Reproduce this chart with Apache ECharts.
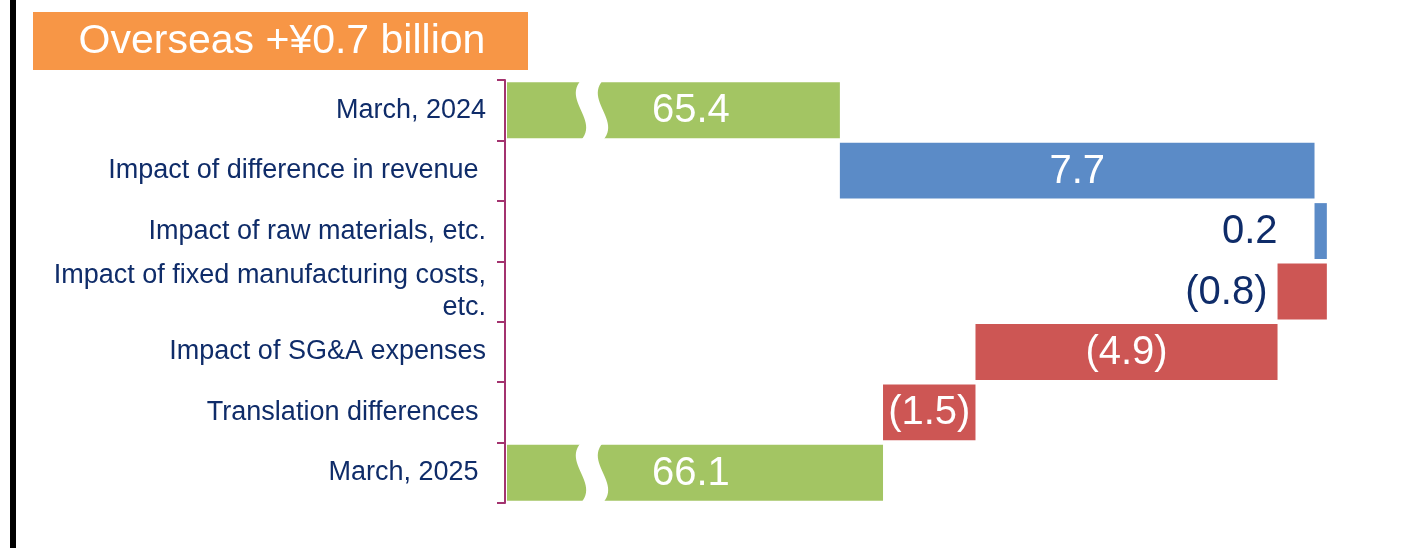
<!DOCTYPE html>
<html>
<head>
<meta charset="utf-8">
<style>
  html, body { margin: 0; padding: 0; background: #ffffff; }
  #chart { width: 1407px; height: 548px; }
</style>
<script src="https://cdn.jsdelivr.net/npm/echarts@6/dist/echarts.min.js"></script>
</head>
<body>
<div id="chart"></div>
<script>
// ---- data ----
const titleText = 'Overseas +¥0.7 billion';
const categories = [
  'March, 2024',
  'Impact of difference in revenue ',
  'Impact of raw materials, etc.',
  'Impact of fixed manufacturing costs,\netc.',
  'Impact of SG&A expenses',
  'Translation differences ',
  'March, 2025 '
];
const values = [65.4, 7.7, 0.2, -0.8, -4.9, -1.5, 66.1];
const kinds = ['total', 'delta', 'delta', 'delta', 'delta', 'delta', 'total'];
const axisMin = 60;
const axisMax = 74;
const breakValue = 61.2;

// ---- styling (not data) ----
const labelPlacement = ['break', 'inside', 'outside', 'outside', 'inside', 'inside', 'break'];
const outsideGap = [0, 0, 37, 10, 0, 0, 0];
const COLORS = { total: '#a3c563', pos: '#5b8bc7', neg: '#cd5654' };
const NAVY = '#0f2c69';
const FONT = "'Liberation Sans', Arial, Helvetica, sans-serif";

// build running waterfall rows
const rows = [];
let running = 0;
values.forEach((v, i) => {
  let s, e;
  if (kinds[i] === 'total') { s = 0; e = v; running = v; }
  else { s = running; e = running + v; running = e; }
  rows.push([i, s, e, v]);
});

function fmt(v) {
  return v < 0 ? '(' + Math.abs(v).toFixed(1) + ')' : v.toFixed(1);
}

function renderItem(params, api) {
  const idx = api.value(0);
  const s = api.value(1), e = api.value(2), v = api.value(3);
  const kind = kinds[idx];
  const cs = params.coordSys;
  const band = api.size([0, 1])[1];
  const barH = band * 0.925;
  const p1 = api.coord([s, idx]);
  const p2 = api.coord([e, idx]);
  const yc = p1[1];
  let x1 = Math.max(Math.min(p1[0], p2[0]), cs.x);
  let x2 = Math.min(Math.max(p1[0], p2[0]), cs.x + cs.width);
  const top = yc - barH / 2, bot = yc + barH / 2;
  const color = kind === 'total' ? COLORS.total : (v >= 0 ? COLORS.pos : COLORS.neg);
  const children = [{
    type: 'rect',
    shape: { x: x1, y: top, width: x2 - x1, height: barH },
    style: { fill: color }
  }];
  const place = labelPlacement[idx];
  let tx, align, fill;
  if (place === 'break') {
    // white S-shaped break gap
    const bx = api.coord([breakValue, idx])[0];
    const w = 22, a = 18;
    const t0 = top - 2, t1 = bot + 2, h = t1 - t0;
    const pts = [];
    const N = 24;
    function bez(t, x0, amp) {
      const mt = 1 - t;
      const x = mt * mt * mt * x0 + 3 * mt * mt * t * (x0 - amp) + 3 * mt * t * t * (x0 + amp) + t * t * t * x0;
      const y = t0 + h * t;
      return [x, y];
    }
    for (let k = 0; k <= N; k++) pts.push(bez(k / N, bx, a));
    for (let k = N; k >= 0; k--) pts.push(bez(k / N, bx + w, a));
    children.push({ type: 'polygon', shape: { points: pts }, style: { fill: '#ffffff' } });
    tx = bx + w + 49; align = 'left'; fill = '#ffffff';
  } else if (place === 'inside') {
    tx = (x1 + x2) / 2; align = 'center'; fill = '#ffffff';
  } else {
    tx = x1 - outsideGap[idx]; align = 'right'; fill = NAVY;
  }
  children.push({
    type: 'text',
    style: {
      text: fmt(v), x: tx, y: yc + 1, fill: fill,
      align: align, verticalAlign: 'middle',
      fontSize: 40, fontFamily: FONT
    }
  });
  return { type: 'group', children: children };
}

const chart = echarts.init(document.getElementById('chart'), null, { renderer: 'canvas' });
chart.setOption({
  animation: false,
  backgroundColor: '#ffffff',
  grid: { left: 507, right: 37, top: 80, bottom: 45, containLabel: false },
  xAxis: { type: 'value', min: axisMin, max: axisMax, show: false },
  yAxis: {
    type: 'category', data: categories, inverse: true, offset: 2,
    axisLine: { show: true, lineStyle: { color: '#a3336f', width: 2 } },
    axisTick: { show: true, length: 8, lineStyle: { color: '#a3336f', width: 2 } },
    axisLabel: {
      margin: 19, color: NAVY, fontSize: 27, lineHeight: 32,
      fontFamily: FONT, align: 'right'
    },
    splitLine: { show: false }
  },
  series: [{
    type: 'custom',
    renderItem: renderItem,
    encode: { x: [1, 2], y: 0 },
    data: rows
  }],
  graphic: [
    { type: 'rect', left: 10, top: 0, shape: { width: 6, height: 548 }, style: { fill: '#000000' } },
    {
      type: 'group', left: 33, top: 12,
      children: [
        { type: 'rect', shape: { x: 0, y: 0, width: 495, height: 58 }, style: { fill: '#f79646' } },
        { type: 'text', style: { text: titleText, x: 249, y: 30, align: 'center', verticalAlign: 'middle', fill: '#ffffff', fontSize: 41, fontFamily: FONT } }
      ]
    }
  ]
});
</script>
</body>
</html>
